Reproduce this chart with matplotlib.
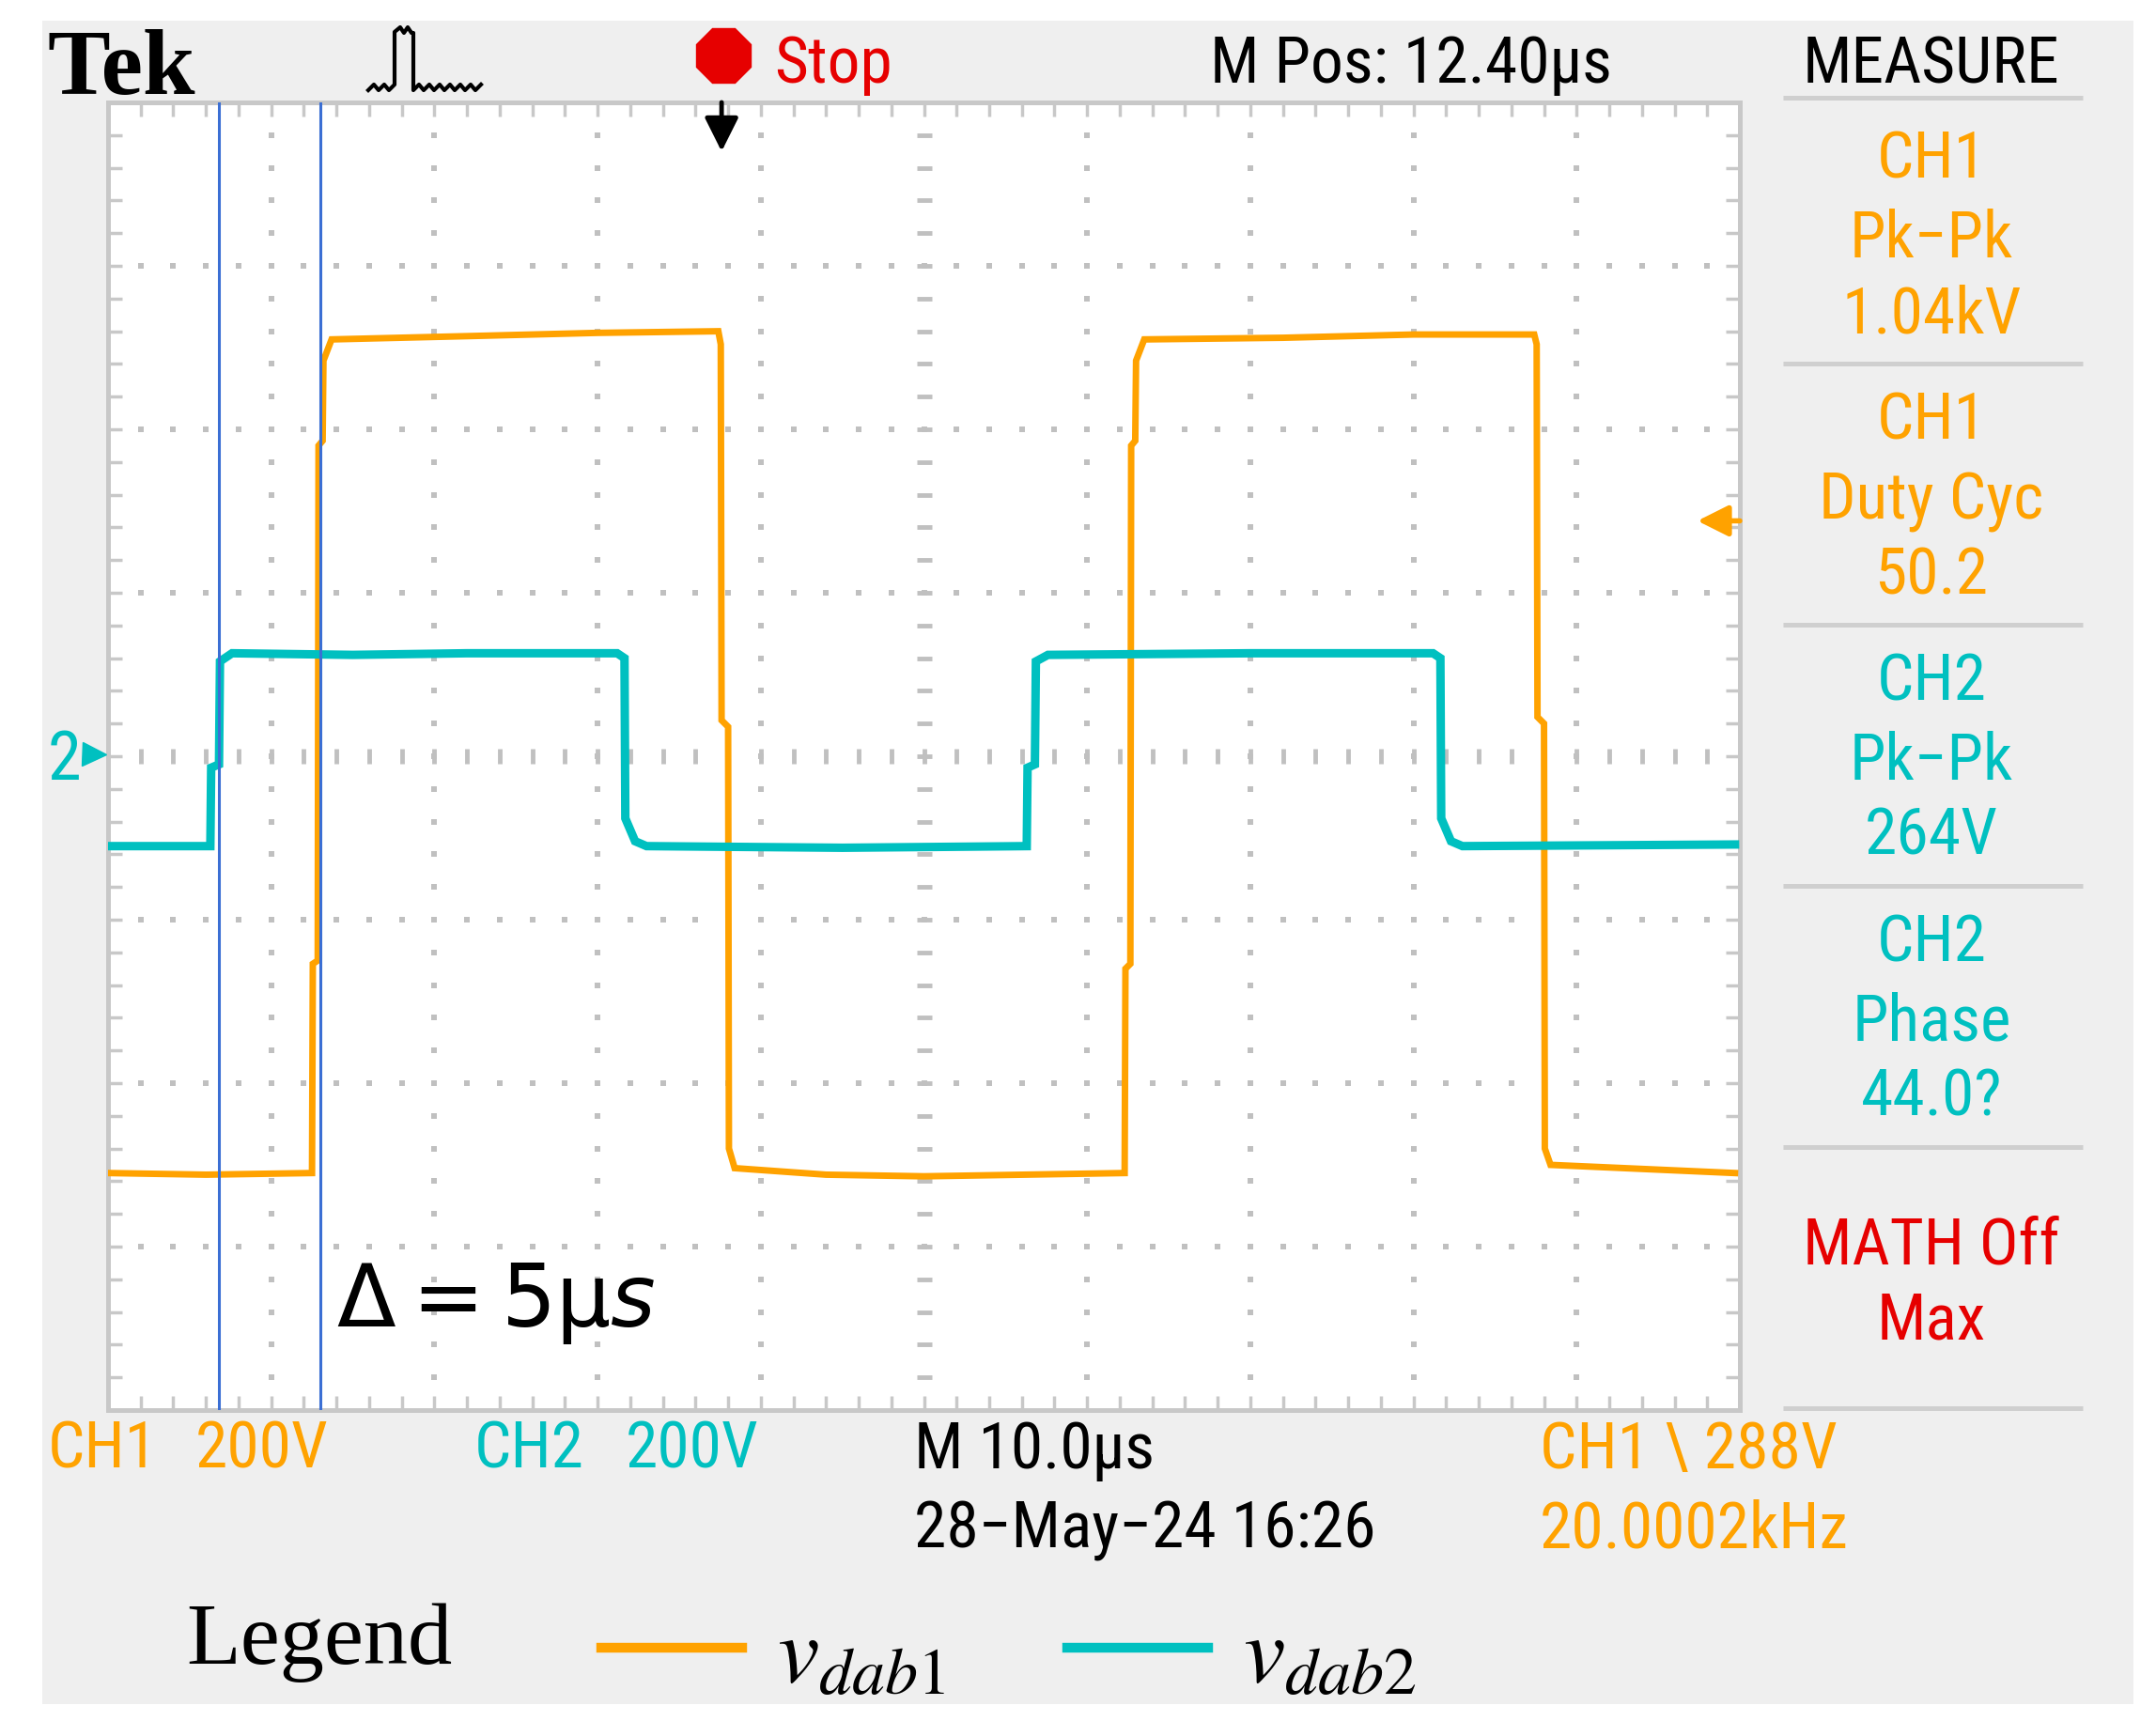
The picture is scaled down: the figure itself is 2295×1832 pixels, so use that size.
import matplotlib
matplotlib.use("Agg")
import matplotlib.pyplot as plt
from matplotlib import font_manager
from matplotlib.patches import Rectangle
from matplotlib.ticker import MultipleLocator
import numpy as np

# screen units: divisions (10 x 8), 10 us/div, 200 V/div, CH2 ground on centre line
ch1_pts = [(0.00, -2.55), (0.60, -2.56), (1.25, -2.55), (1.255, -1.27), (1.285, -1.25),
           (1.29, 1.90), (1.315, 1.93), (1.32, 2.42), (1.37, 2.55), (2.20, 2.57),
           (3.00, 2.59), (3.74, 2.60), (3.755, 2.52), (3.76, 0.22), (3.80, 0.18),
           (3.805, -2.40), (3.84, -2.52), (4.40, -2.56), (5.00, -2.57), (6.23, -2.55),
           (6.235, -1.30), (6.265, -1.27), (6.27, 1.90), (6.295, 1.93), (6.30, 2.42),
           (6.35, 2.55), (7.20, 2.56), (8.00, 2.58), (8.74, 2.58), (8.755, 2.52),
           (8.76, 0.24), (8.80, 0.20), (8.805, -2.40), (8.84, -2.50), (9.97, -2.55)]
ch2_pts = [(0.00, -0.55), (0.627, -0.55), (0.632, -0.07), (0.68, -0.05), (0.686, 0.58),
           (0.76, 0.63), (1.50, 0.62), (2.20, 0.63), (3.12, 0.63), (3.165, 0.60),
           (3.17, -0.38), (3.23, -0.52), (3.30, -0.55), (4.50, -0.56), (5.63, -0.55),
           (5.635, -0.07), (5.68, -0.05), (5.686, 0.58), (5.76, 0.62), (7.00, 0.63),
           (8.12, 0.63), (8.165, 0.60), (8.17, -0.38), (8.23, -0.52), (8.30, -0.55),
           (9.97, -0.54)]
ch1_t, ch1_v = zip(*ch1_pts)
ch2_t, ch2_v = zip(*ch2_pts)

cursor_t = [0.68, 1.30]
trig_pos = 3.76
trig_level = 1.44

measure = [("CH1", "Pk−Pk", "1.04kV"),
           ("CH1", "Duty Cyc", "50.2"),
           ("CH2", "Pk−Pk", "264V"),
           ("CH2", "Phase", "44.0?")]
measure_ch = ["CH1", "CH1", "CH2", "CH2"]

ORANGE = "#ffa200"
CYAN = "#00c0c0"
RED = "#e60000"
BLUE = "#3b6fd4"
GRID = "#c0c0c0"
W, H = 2295, 1833

installed = {f.name for f in font_manager.fontManager.ttflist}
SCOPE = next(n for n in ["Roboto Condensed", "Liberation Sans Narrow", "DejaVu Sans"]
             if n in installed)
FS = 1.0 if SCOPE != "DejaVu Sans" else 0.8
plt.rcParams["mathtext.fontset"] = "stix"

fig = plt.figure(figsize=(W / 100, H / 100), dpi=100)
fig.patch.set_facecolor("white")

# background panel
bg = fig.add_axes([0, 0, 1, 1], zorder=0)
bg.set_xlim(0, W)
bg.set_ylim(H, 0)
bg.axis("off")
bg.add_patch(Rectangle((45, 23), 2226, 1792, color="#efefef", lw=0))
for y in [105, 388, 666, 944, 1222, 1500]:
    bg.plot([1898, 2217], [y, y], color="#cfcfcf", lw=3.6, solid_capstyle="butt")

# graticule
ax = fig.add_axes([115 / W, 1 - 1502 / H, 1737 / W, 1392 / H], zorder=1)
ax.set_facecolor("white")
ax.set_xlim(0, 10)
ax.set_ylim(-4, 4)
for s in ax.spines.values():
    s.set_color("#c8c8c8")
    s.set_linewidth(3.6)
for a in (ax.xaxis, ax.yaxis):
    a.set_major_locator(MultipleLocator(1))
    a.set_minor_locator(MultipleLocator(0.2))
ax.tick_params(which="both", direction="in", length=11, width=2.5, color="#c8c8c8",
               top=True, right=True, labelbottom=False, labelleft=False)

minor_x = np.arange(1, 50) * 0.2
minor_y = np.arange(1, 40) * 0.2 - 4
for y in [-3, -2, -1, 1, 2, 3]:
    ax.plot(minor_x, np.full_like(minor_x, y), ls="none", marker="s", ms=4, mew=0, color=GRID)
for x in [1, 2, 3, 4, 6, 7, 8, 9]:
    ax.plot(np.full_like(minor_y, x), minor_y, ls="none", marker="s", ms=4, mew=0, color=GRID)
ax.plot(minor_x, np.zeros_like(minor_x), ls="none", marker="|", ms=11, mew=3.5, color=GRID)
ax.plot(np.full_like(minor_y, 5), minor_y, ls="none", marker="_", ms=11, mew=3.5, color=GRID)

l1, = ax.plot(ch1_t, ch1_v, color=ORANGE, lw=5, zorder=3, solid_joinstyle="miter")
l2, = ax.plot(ch2_t, ch2_v, color=CYAN, lw=6.5, zorder=4, solid_joinstyle="miter")
for t in cursor_t:
    ax.axvline(t, color=BLUE, lw=2.2, zorder=5)

ax.annotate("", xy=(trig_pos, 3.70), xytext=(trig_pos, 4.0),
            arrowprops=dict(arrowstyle="-|>", color="black", lw=3.5, mutation_scale=55,
                            shrinkA=0, shrinkB=0), zorder=6)
ax.annotate("", xy=(9.74, trig_level), xytext=(10.0, trig_level),
            arrowprops=dict(arrowstyle="-|>", color=ORANGE, lw=4, mutation_scale=50,
                            shrinkA=0, shrinkB=0), zorder=6, annotation_clip=False)

# texts and icons
ov = fig.add_axes([0, 0, 1, 1], zorder=3)
ov.set_xlim(0, W)
ov.set_ylim(H, 0)
ov.axis("off")


def scope_text(x, y, s, color, size=50, ha="left"):
    ov.text(x, y, s, color=color, fontsize=size * FS, ha=ha, va="baseline",
            family=[SCOPE, "DejaVu Sans"])


ov.text(50, 100, "Tek", fontsize=72, fontweight="bold", va="baseline",
        family=["Liberation Serif", "DejaVu Serif"])
ov.plot([392, 398, 403, 409, 414, 420, 420, 426, 430, 434, 438, 440, 440, 446, 451, 457,
         462, 468, 473, 479, 484, 490, 495, 501, 506, 512],
        [97, 91, 97, 91, 97, 91, 35, 30, 36, 30, 36, 36, 97, 91, 97, 91, 97, 91, 97, 91,
         97, 91, 97, 91, 97, 91], color="black", lw=3)
ov.plot([770], [60], marker="8", ms=45, color=RED, mec=RED)
scope_text(824, 88, "Stop", RED)
scope_text(1288, 88, "M Pos: 12.40µs", "black")
scope_text(2056, 88, "MEASURE", "black", ha="center")

base = [189, 467, 745, 1023]
for (c1, c2, c3), ch, b in zip(measure, measure_ch, base):
    col = ORANGE if ch == "CH1" else CYAN
    scope_text(2056, b, c1, col, ha="center")
    scope_text(2056, b + 85, c2, col, ha="center")
    scope_text(2056, b + 165, c3, col, ha="center")
scope_text(2056, 1345, "MATH Off", RED, ha="center")
scope_text(2056, 1426, "Max", RED, ha="center")

scope_text(51, 830, "2", CYAN, size=52)
ov.plot([100], [804], marker=">", ms=18, color=CYAN)

scope_text(51, 1563, "CH1", ORANGE)
scope_text(208, 1563, "200V", ORANGE)
scope_text(505, 1563, "CH2", CYAN)
scope_text(666, 1563, "200V", CYAN)
scope_text(973, 1563, "M 10.0µs", "black")
scope_text(973, 1648, "28−May−24 16:26", "black")
scope_text(1639, 1563, "CH1 \\ 288V", ORANGE)
scope_text(1639, 1648, "20.0002kHz", ORANGE)

ov.text(358, 1412, r"$\Delta = 5\mathrm{μ}s$", fontsize=66, va="baseline",
        math_fontfamily="dejavusans")

ov.text(198, 1771, "Legend", fontsize=68, va="baseline",
        family=["Liberation Serif", "DejaVu Serif"])
leg = fig.legend(handles=[l1, l2], labels=[r"$v_{dab1}$", r"$v_{dab2}$"],
                 loc="center left", bbox_to_anchor=(640 / W, 1 - 1762 / H), ncol=2,
                 frameon=False, fontsize=72, handlelength=1.5, handletextpad=0.37,
                 columnspacing=1.3, borderpad=0, borderaxespad=0)
for h in leg.get_lines():
    h.set_linewidth(7.5)

fig.savefig("out.png", dpi=100)
